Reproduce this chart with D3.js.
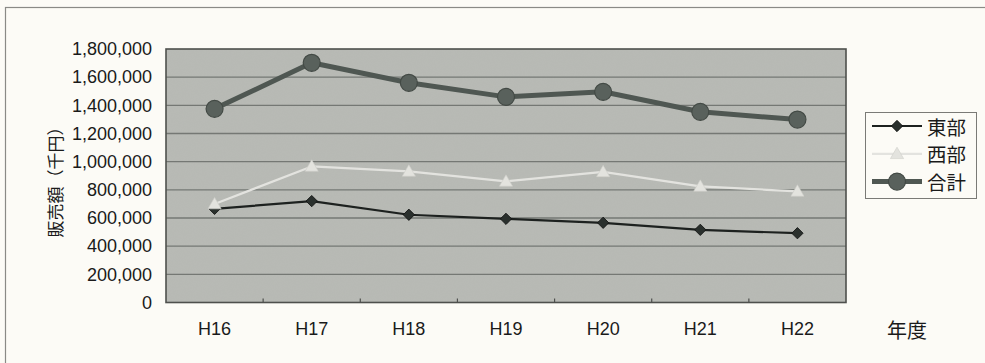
<!DOCTYPE html>
<html lang="ja">
<head>
<meta charset="utf-8">
<script src="https://cdn.jsdelivr.net/npm/d3@7"></script>
<style>
  html, body { margin: 0; padding: 0; background: #fcfbf6; }
  svg { display: block; }
  text { font-family: "Liberation Sans", Arial, "Noto Sans CJK JP", sans-serif; fill: #1a1a1a; }
  .jp { font-family: "Noto Sans CJK JP", "Liberation Sans", sans-serif; }
</style>
</head>
<body>
<svg id="chart" width="985" height="363"></svg>
<script>
// 年度別販売額(千円)
const categories = ["H16", "H17", "H18", "H19", "H20", "H21", "H22"];
const east  = [665000, 720000, 623000, 594000, 566000, 516000, 492000];
const west  = [699000, 966000, 931000, 860000, 927000, 824000, 789000];
const total = [1375000, 1702000, 1560000, 1460000, 1496000, 1354000, 1299000];
const seriesNames = ["東部", "西部", "合計"];
const yTicks = [0, 200000, 400000, 600000, 800000, 1000000, 1200000, 1400000, 1600000, 1800000];

const svg = d3.select("#chart");
const W = 985, H = 363;
const plot = { left: 166, right: 846, top: 49, bottom: 302.5 };

// outer chart frame
svg.append("rect")
  .attr("x", 5.5).attr("y", 7.5)
  .attr("width", W + 20).attr("height", H + 20)
  .attr("fill", "#fcfbf6").attr("stroke", "#8a8a86").attr("stroke-width", 1.2);

const x = d3.scaleBand().domain(categories).range([plot.left, plot.right]).padding(0);
const y = d3.scaleLinear().domain([0, 1800000]).range([plot.bottom, plot.top]);

// grainy texture for the plot area
const defs = svg.append("defs");
const f = defs.append("filter").attr("id", "grain").attr("x", 0).attr("y", 0).attr("width", 1).attr("height", 1);
f.append("feTurbulence").attr("type", "fractalNoise").attr("baseFrequency", 0.9).attr("numOctaves", 2).attr("seed", 3).attr("result", "n");
f.append("feColorMatrix").attr("in", "n").attr("type", "matrix")
  .attr("values", "0 0 0 0 0.45  0 0 0 0 0.46  0 0 0 0 0.44  0 0 0 -1.1 0.75").attr("result", "g");
f.append("feComposite").attr("in", "g").attr("in2", "SourceGraphic").attr("operator", "in");

svg.append("rect")
  .attr("x", plot.left).attr("y", plot.top)
  .attr("width", plot.right - plot.left).attr("height", plot.bottom - plot.top)
  .attr("fill", "#b8bab5");
svg.append("rect")
  .attr("x", plot.left).attr("y", plot.top)
  .attr("width", plot.right - plot.left).attr("height", plot.bottom - plot.top)
  .attr("fill", "#b8bab5").attr("filter", "url(#grain)").attr("opacity", 0.35);

// horizontal gridlines
svg.append("g").selectAll("line")
  .data(yTicks.filter(d => d > 0 && d < 1800000))
  .join("line")
  .attr("x1", plot.left).attr("x2", plot.right)
  .attr("y1", d => y(d)).attr("y2", d => y(d))
  .attr("stroke", "#757874").attr("stroke-width", 1.3);

// plot border
svg.append("rect")
  .attr("x", plot.left).attr("y", plot.top)
  .attr("width", plot.right - plot.left).attr("height", plot.bottom - plot.top)
  .attr("fill", "none").attr("stroke", "#4e504d").attr("stroke-width", 1.6);

// category boundary ticks on the bottom edge
svg.append("g").selectAll("line")
  .data(categories.slice(1))
  .join("line")
  .attr("x1", d => x(d)).attr("x2", d => x(d))
  .attr("y1", plot.bottom).attr("y2", plot.bottom - 4)
  .attr("stroke", "#4e504d").attr("stroke-width", 1.2);

// y axis labels
const yAxis = svg.append("g")
  .attr("transform", `translate(${plot.left - 14},0)`)
  .call(d3.axisLeft(y).tickValues(yTicks).tickFormat(d3.format(",")).tickSize(0).tickPadding(0));
yAxis.select(".domain").remove();
yAxis.selectAll("text")
  .attr("font-size", 18).attr("fill", "#1a1a1a")
  .style("font-family", "'Liberation Sans', Arial, sans-serif");

// x axis labels
const xAxis = svg.append("g")
  .attr("transform", `translate(0,${plot.bottom})`)
  .call(d3.axisBottom(x).tickSize(0).tickPadding(20));
xAxis.select(".domain").remove();
xAxis.selectAll("text")
  .attr("font-size", 18).attr("fill", "#1a1a1a")
  .style("font-family", "'Liberation Sans', Arial, sans-serif");

// axis titles
svg.append("text")
  .attr("class", "jp")
  .attr("transform", "translate(54,178) rotate(-90)")
  .attr("text-anchor", "middle").attr("dominant-baseline", "central")
  .attr("font-size", 17)
  .text("販売額（千円）");
svg.append("text")
  .attr("class", "jp")
  .attr("x", 907).attr("y", 329)
  .attr("text-anchor", "middle").attr("dominant-baseline", "central")
  .attr("font-size", 20)
  .text("年度");

// series
const cx = d => x(d) + x.bandwidth() / 2;
const series = [
  { name: seriesNames[0], values: east,  stroke: "#1d211f", width: 2.2, sym: "diamond",  fill: "#2a302d" },
  { name: seriesNames[1], values: west,  stroke: "#e3e3df", width: 2.2, sym: "triangle", fill: "#e3e3de" },
  { name: seriesNames[2], values: total, stroke: "#4f5752", width: 5,   sym: "circle",   fill: "#59615c" }
];

function marker(g, s, px, py) {
  if (s.sym === "diamond") {
    g.append("path")
      .attr("d", d3.symbol(d3.symbolSquare, 64)())
      .attr("transform", `translate(${px},${py}) rotate(45)`)
      .attr("fill", s.fill).attr("stroke", "#101211").attr("stroke-width", 0.8);
  } else if (s.sym === "triangle") {
    g.append("path")
      .attr("d", d3.symbol(d3.symbolTriangle, 75)())
      .attr("transform", `translate(${px},${py + 1})`)
      .attr("fill", s.fill).attr("stroke", "#cfcfca").attr("stroke-width", 0.6);
  } else {
    g.append("circle")
      .attr("cx", px).attr("cy", py).attr("r", 8.5)
      .attr("fill", s.fill).attr("stroke", "#434a45").attr("stroke-width", 1.2);
  }
}

const line = d3.line().x((d, i) => cx(categories[i])).y(d => y(d));
series.forEach(s => {
  const g = svg.append("g");
  g.append("path")
    .attr("d", line(s.values))
    .attr("fill", "none").attr("stroke", s.stroke).attr("stroke-width", s.width)
    .attr("stroke-linejoin", "round");
  s.values.forEach((v, i) => marker(g, s, cx(categories[i]), y(v)));
});

// legend
const lg = svg.append("g");
lg.append("rect")
  .attr("x", 865.5).attr("y", 112.5).attr("width", 111).attr("height", 86)
  .attr("fill", "#fcfbf6").attr("stroke", "#7a7a76").attr("stroke-width", 1);
series.forEach((s, i) => {
  const ly = 126 + i * 27.8;
  lg.append("line")
    .attr("x1", 872).attr("x2", 922).attr("y1", ly).attr("y2", ly)
    .attr("stroke", s.stroke).attr("stroke-width", s.width);
  marker(lg, s, 897, ly);
  lg.append("text")
    .attr("class", "jp")
    .attr("x", 927).attr("y", ly)
    .attr("dominant-baseline", "central")
    .attr("font-size", 19.5)
    .text(s.name);
});
</script>
</body>
</html>
